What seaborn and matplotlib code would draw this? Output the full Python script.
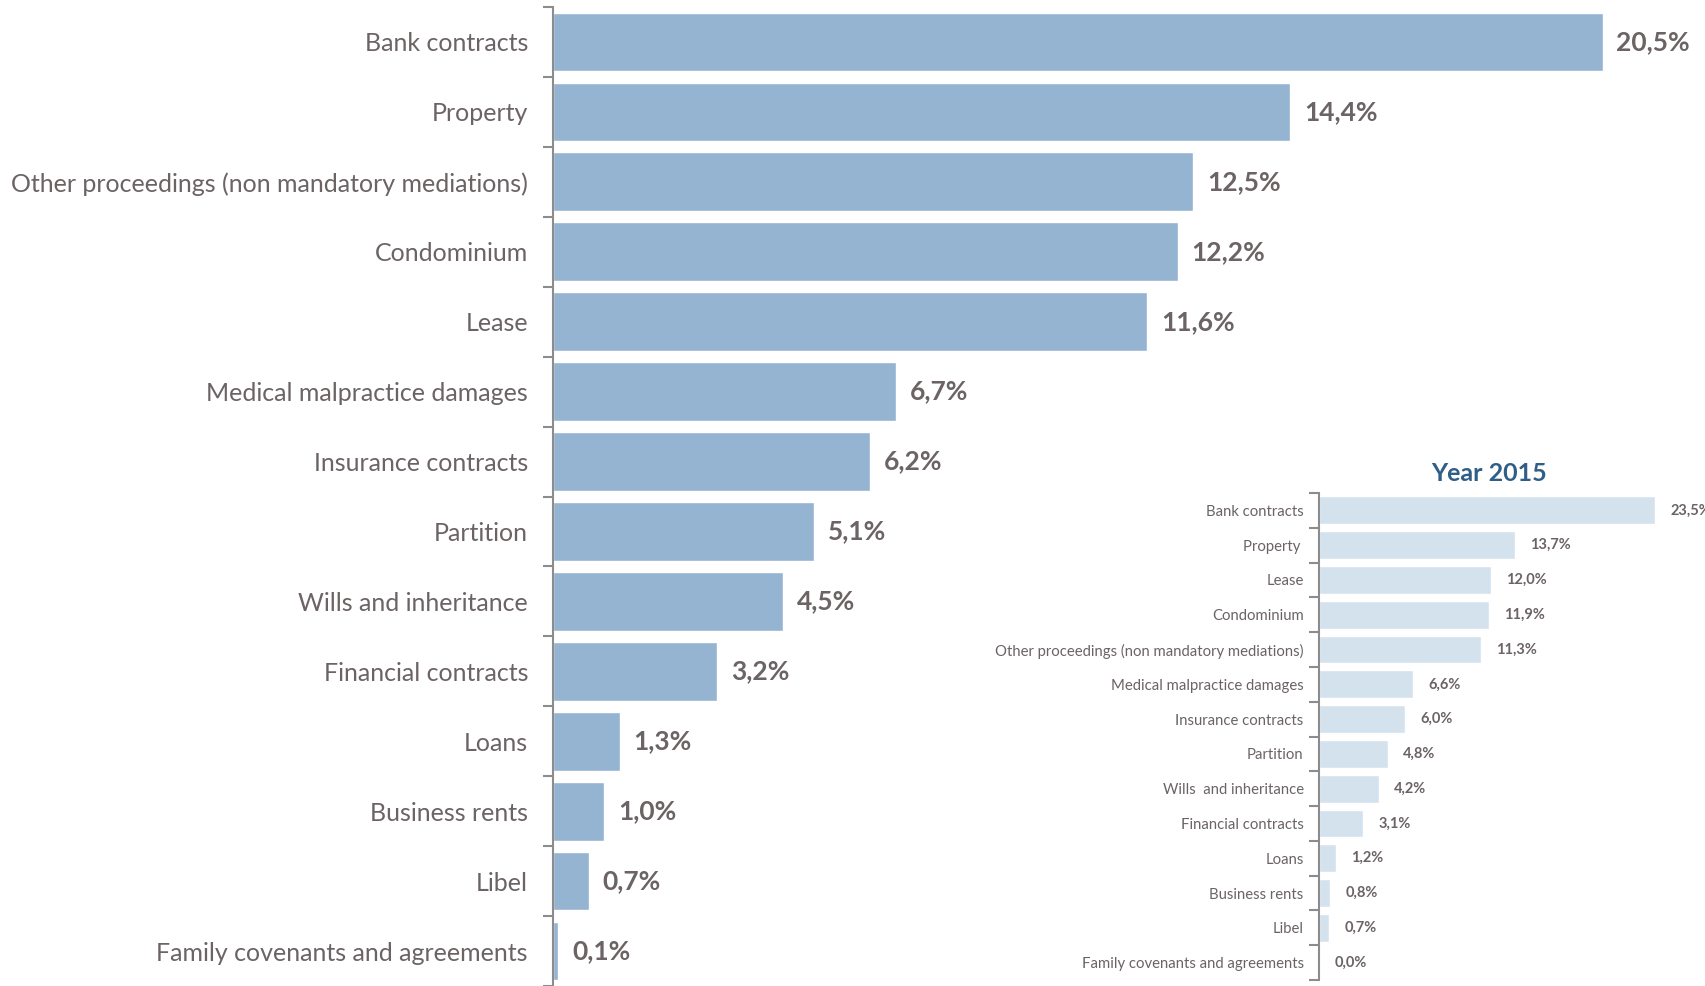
import matplotlib
matplotlib.use("Agg")
import pandas as pd
import matplotlib.pyplot as plt
import seaborn as sns
from matplotlib.ticker import FixedLocator

# data
categories = ["Bank contracts", "Property", "Other proceedings (non mandatory mediations)",
              "Condominium", "Lease", "Medical malpractice damages", "Insurance contracts",
              "Partition", "Wills and inheritance", "Financial contracts", "Loans",
              "Business rents", "Libel", "Family covenants and agreements"]
values = [20.5, 14.4, 12.5, 12.2, 11.6, 6.7, 6.2, 5.1, 4.5, 3.2, 1.3, 1.0, 0.7, 0.1]

categories_2015 = ["Bank contracts", "Property ", "Lease", "Condominium",
                   "Other proceedings (non mandatory mediations)", "Medical malpractice damages",
                   "Insurance contracts", "Partition", "Wills  and inheritance",
                   "Financial contracts", "Loans", "Business rents", "Libel",
                   "Family covenants and agreements"]
values_2015 = [23.5, 13.7, 12.0, 11.9, 11.3, 6.6, 6.0, 4.8, 4.2, 3.1, 1.2, 0.8, 0.7, 0.0]

main_df = pd.DataFrame({"category": categories, "value": values})
df_2015 = pd.DataFrame({"category": categories_2015, "value": values_2015})

sns.set_style("white")
plt.rcParams["font.family"] = ["Lato", "DejaVu Sans"]

text_col = "#6b6364"
spine_col = "#8c8c8c"

fig = plt.figure(figsize=(17.05, 9.86), dpi=100)


def draw_bars(ax, df, color, width, label_size, value_size, tick_pad, value_pad):
    sns.barplot(data=df, x="value", y="category", ax=ax, color=color,
                width=width, saturation=1, orient="h")
    n = len(df)
    ax.set_ylim(n - 0.5, -0.5)
    ax.set_xlabel("")
    ax.set_ylabel("")
    ax.set_xticks([])
    for s in ["top", "right", "bottom"]:
        ax.spines[s].set_visible(False)
    ax.spines["left"].set_color(spine_col)
    ax.spines["left"].set_linewidth(1.5)
    # labels at centres, tick marks at the category boundaries
    ax.tick_params(axis="y", which="major", length=0, pad=tick_pad,
                   labelsize=label_size, labelcolor=text_col)
    ax.yaxis.set_minor_locator(FixedLocator([i - 0.5 for i in range(n + 1)]))
    ax.tick_params(axis="y", which="minor", length=7, width=1.5, color=spine_col, left=True)
    labels = [f"{v:.1f}".replace(".", ",") + "%" for v in df["value"]]
    ax.bar_label(ax.containers[0], labels=labels, padding=value_pad,
                 fontsize=value_size, fontweight="bold", color=text_col)


# main chart
ax = fig.add_axes([553 / 1705, 0.0, 1 - 553 / 1705, 1 - 7 / 986])
draw_bars(ax, main_df, "#95b4d1", 0.84, 18, 19, 18, 10)
ax.set_xlim(0, 22.5)

# 2015 inset
ax2 = fig.add_axes([1319 / 1705, 6 / 986, 386 / 1705, 487 / 986])
draw_bars(ax2, df_2015, "#d4e2ee", 0.8, 10.7, 10.5, 11, 11)
ax2.set_xlim(0, 27)
ax2.set_facecolor("none")
ax2.text(0.44, 1.016, "Year 2015", transform=ax2.transAxes, ha="center", va="bottom",
         fontsize=18, fontweight="bold", color="#2f5f86")

fig.savefig("out.png", dpi=100)
